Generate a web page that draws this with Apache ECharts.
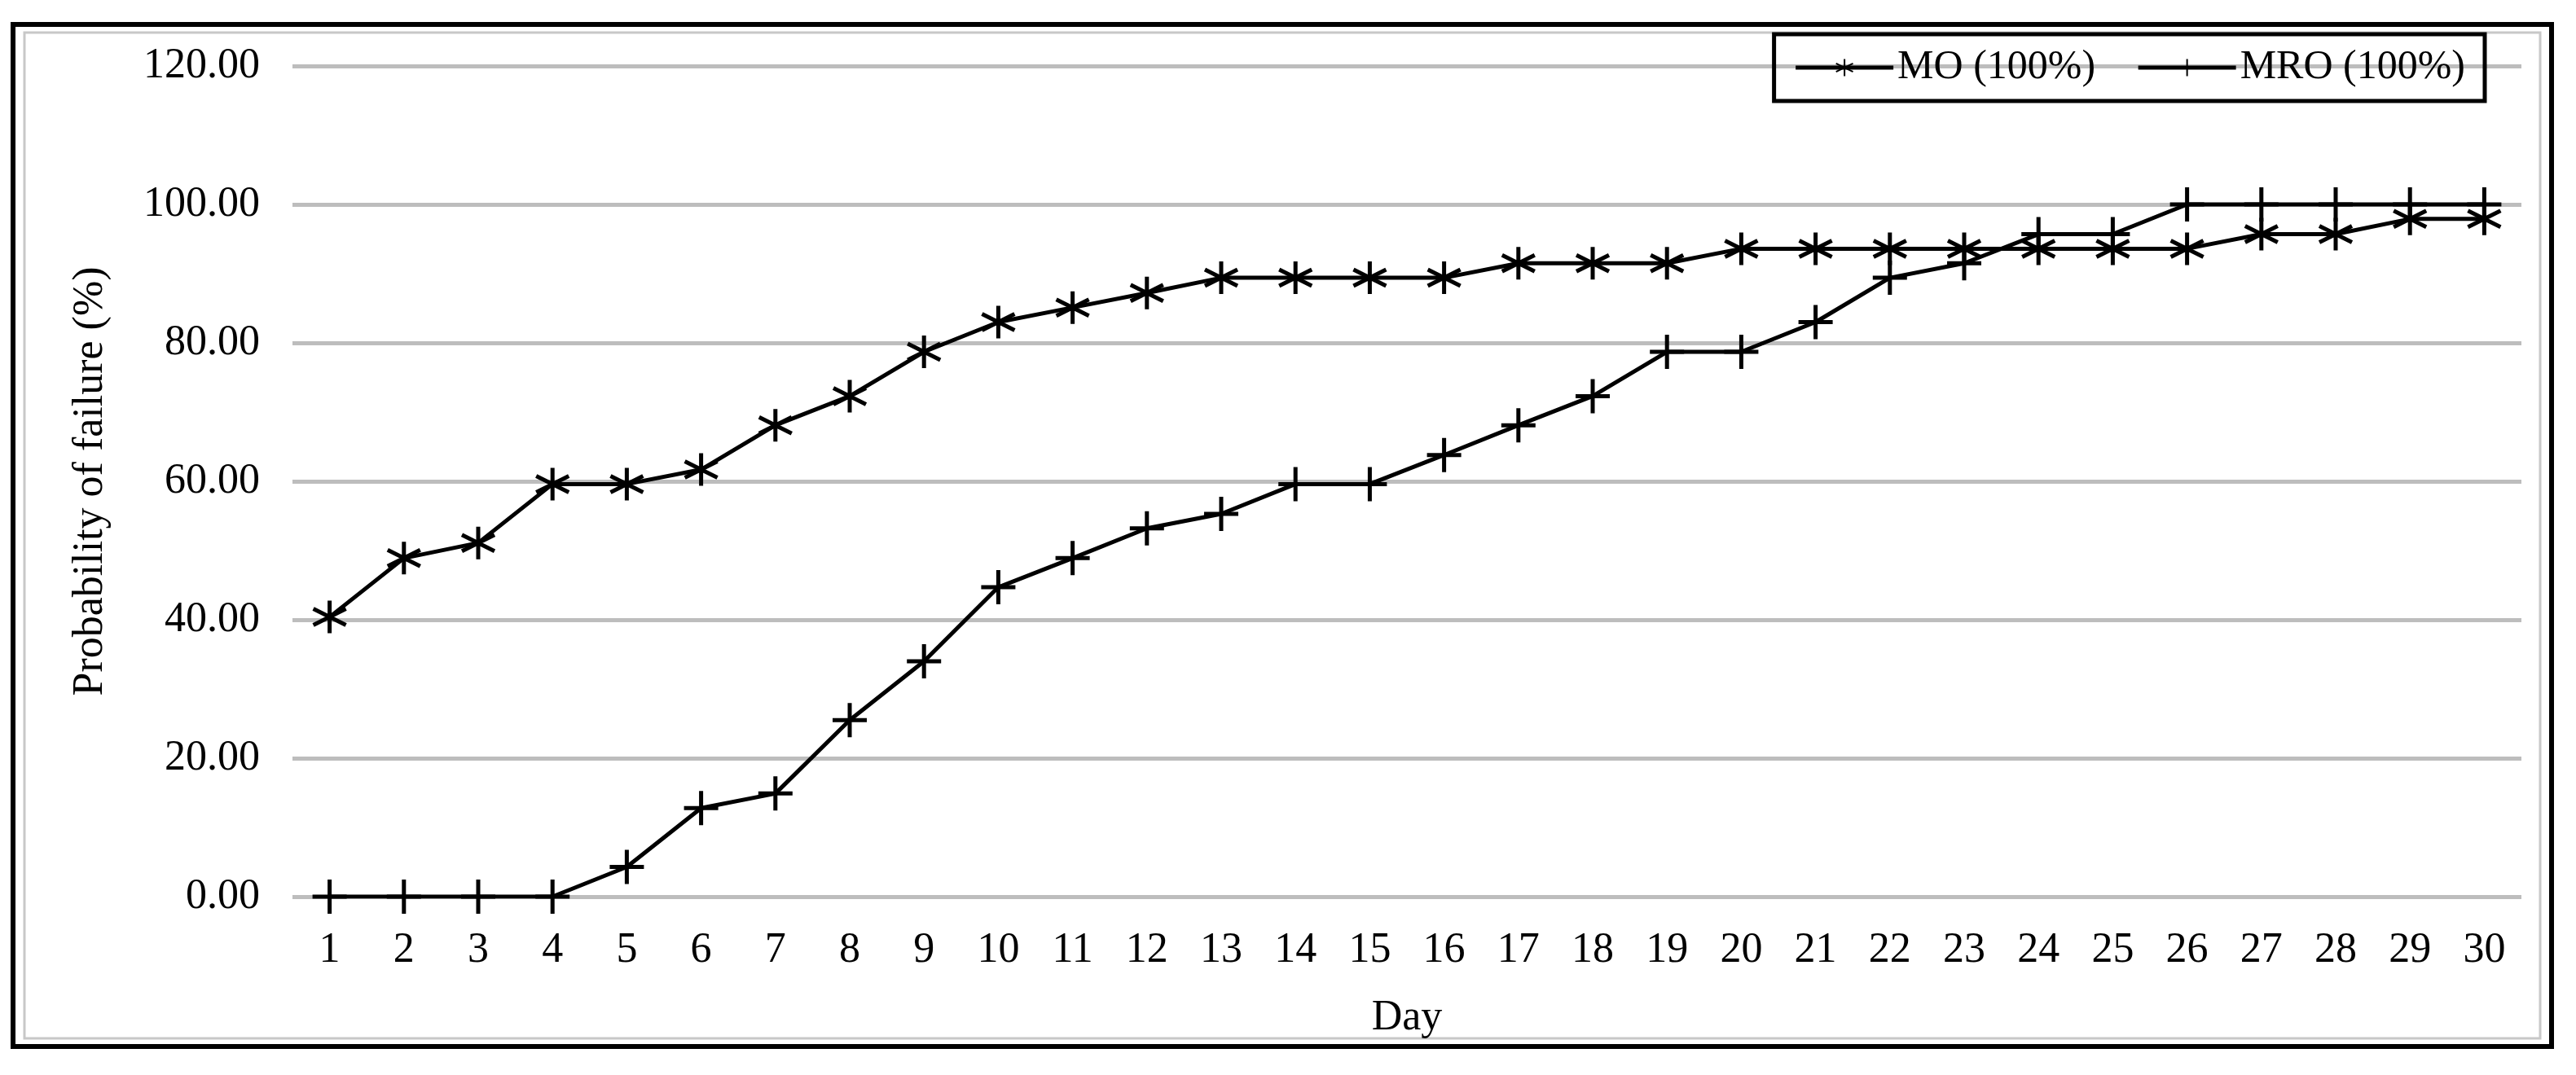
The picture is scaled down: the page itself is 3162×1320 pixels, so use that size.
<!DOCTYPE html>
<html>
<head>
<meta charset="utf-8">
<script src="https://cdn.jsdelivr.net/npm/echarts@6/dist/echarts.min.js"></script>
<style>html,body{margin:0;padding:0;background:#fff}#chart{width:3162px;height:1320px}</style>
</head>
<body>
<div id="chart"></div>
<script>
const days = Array.from({ length: 30 }, (_, i) => String(i + 1))
const moValues = [40.4, 48.9, 51.1, 59.6, 59.6, 61.7, 68.1, 72.3, 78.7, 83.0, 85.1, 87.2, 89.4, 89.4, 89.4,
  89.4, 91.5, 91.5, 91.5, 93.6, 93.6, 93.6, 93.6, 93.6, 93.6, 93.6, 95.7, 95.7, 97.9, 97.9]
const mroValues = [0, 0, 0, 0, 4.3, 12.8, 14.9, 25.5, 34.0, 44.7, 48.9, 53.2, 55.3, 59.6, 59.6,
  63.8, 68.1, 72.3, 78.7, 78.7, 83.0, 89.4, 91.5, 95.7, 95.7, 100, 100, 100, 100, 100]

const font = 'Liberation Serif'
const star = 'path://M0,-10L0,10M-8.66,-5L8.66,5M-8.66,5L8.66,-5'
const plus = 'path://M-10,0L10,0M0,-10L0,10'

const chart = echarts.init(document.getElementById('chart'))

const lineSeries = (name, data, symbol, size) => ({
  name, type: 'line', data, symbol, symbolSize: size,
  lineStyle: { color: '#000', width: 5 },
  itemStyle: { color: '#000', borderColor: '#000', borderWidth: 5 },
  animation: false
})

chart.setOption({
  backgroundColor: '#fff',
  textStyle: { fontFamily: font, color: '#000' },
  graphic: [
    { type: 'rect', shape: { x: 16, y: 30, width: 3116, height: 1255 }, style: { fill: 'none', stroke: '#000', lineWidth: 6 } },
    { type: 'rect', shape: { x: 30, y: 40, width: 3088, height: 1235 }, style: { fill: 'none', stroke: '#c8c8c8', lineWidth: 3 } }
  ],
  legend: {
    right: 112, top: 42, itemGap: 50, itemWidth: 120, itemHeight: 26,
    padding: [16, 24], borderColor: '#000', borderWidth: 5,
    lineStyle: { width: 5 },
    textStyle: { fontFamily: font, fontSize: 50, color: '#000' },
    data: ['MO (100%)', 'MRO (100%)']
  },
  grid: { left: 359, right: 67, top: 81, height: 1020, containLabel: false },
  xAxis: {
    type: 'category', data: days, boundaryGap: true,
    name: 'Day', nameLocation: 'middle', nameGap: 123,
    nameTextStyle: { fontFamily: font, fontSize: 52, color: '#000' },
    axisLine: { show: false }, axisTick: { show: false },
    axisLabel: { fontFamily: font, fontSize: 52, color: '#000', margin: 40 }
  },
  yAxis: {
    type: 'value', min: 0, max: 120, interval: 20,
    name: 'Probability of failure (%)', nameLocation: 'middle', nameGap: 222,
    nameTextStyle: { fontFamily: font, fontSize: 52, color: '#000' },
    axisLabel: { fontFamily: font, fontSize: 52, color: '#000', margin: 40, formatter: v => v.toFixed(2) },
    splitLine: { lineStyle: { color: '#bdbdbd', width: 5 } }
  },
  series: [
    lineSeries('MO (100%)', moValues, star, 40),
    lineSeries('MRO (100%)', mroValues, plus, 42)
  ]
})
</script>
</body>
</html>
